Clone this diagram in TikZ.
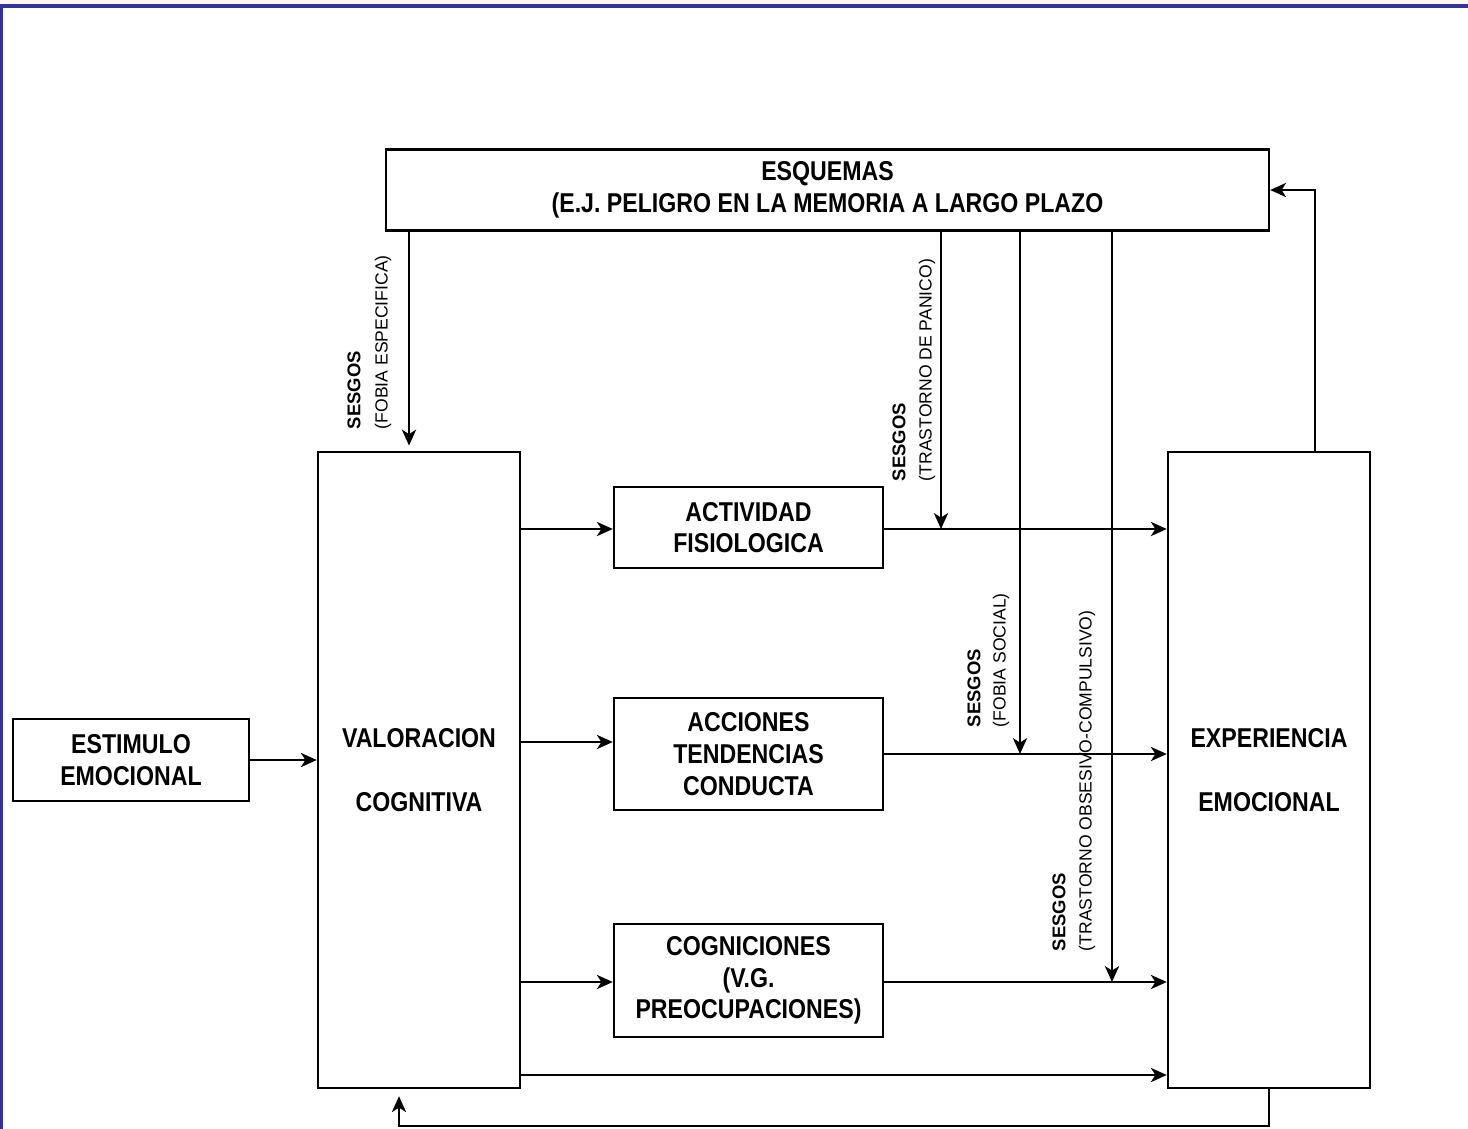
\documentclass[tikz,border=0pt]{standalone}
\usepackage{fontspec}
\setmainfont{Liberation Sans}[FakeStretch=0.85]
\newfontfamily\plainsans{Liberation Sans}
\usetikzlibrary{arrows.meta,positioning,calc}
\definecolor{framebl}{RGB}{51,51,153}
\definecolor{framecream}{RGB}{255,248,238}

\begin{document}
\begin{tikzpicture}[x=0.02cm, y=-0.02cm, line width=1.1pt, >={Stealth[length=9pt,width=8pt,inset=2.5pt]},
main box/.style={draw,line width=1.4pt,inner sep=0pt,align=center,font=\bfseries\fontsize{15.5}{18}\selectfont},
link/.style={->,draw=black,line width=1.5pt},
bias tag/.style={rotate=90,anchor=west,inner sep=0pt,font=\plainsans\bfseries\fontsize{10.5}{12}\selectfont},
bias note/.style={rotate=90,anchor=west,inner sep=0pt,font=\plainsans\fontsize{10}{12}\selectfont}]
\useasboundingbox (0,0) rectangle (1468,1129);
\fill[framecream] (0,0) rectangle (1468,5);
\draw[framebl,line width=1.8pt] (0,6) -- (1468,6) (1,6) -- (1,1129);
\begin{scope}[every node/.style={main box}]
\node[minimum width=17.66cm,minimum height=1.62cm] (esq) at (827.5,190) {ESQUEMAS\\(E.J. PELIGRO EN LA MEMORIA A LARGO PLAZO};
\node[minimum width=4.72cm,minimum height=1.64cm] (est) at (131,760) {ESTIMULO\\EMOCIONAL};
\node[minimum width=4.04cm,minimum height=12.72cm] (val) at (419,770) {VALORACION\\[18pt]COGNITIVA};
\node[minimum width=5.38cm,minimum height=1.62cm] (act) at (748.5,527.5) {ACTIVIDAD\\FISIOLOGICA};
\node[minimum width=5.38cm,minimum height=2.24cm] (acc) at (748.5,754) {ACCIONES\\TENDENCIAS\\CONDUCTA};
\node[minimum width=5.38cm,minimum height=2.26cm] (cog) at (748.5,980.5) {COGNICIONES\\(V.G.\\PREOCUPACIONES)};
\node[minimum width=4.04cm,minimum height=12.72cm] (exp) at (1269,770) {EXPERIENCIA\\[18pt]EMOCIONAL};
\end{scope}
\node[bias tag] (t1) at (354,430) {SESGOS};
\node[bias note] (n1) at (383,430) {(FOBIA ESPECIFICA)};
\node[bias tag] (t2) at (899,482) {SESGOS};
\node[bias note] (n2) at (927,482) {(TRASTORNO DE PANICO)};
\node[bias tag] (t3) at (974,728) {SESGOS};
\node[bias note] (n3) at (1001,728) {(FOBIA SOCIAL)};
\node[bias tag] (t4) at (1059,952) {SESGOS};
\node[bias note] (n4) at (1087,952) {(TRASTORNO OBSESIVO-COMPULSIVO)};
\coordinate (actin) at (0,529);
\coordinate (accin) at (0,742);
\coordinate (accout) at (0,754);
\coordinate (cogin) at (0,982);
\coordinate (valout) at (0,1075);
\coordinate (fb) at (399,1126);
\coordinate (up) at (1315,0);
\coordinate (b1) at (409,0);
\coordinate (b2) at (941,0);
\coordinate (b3) at (1020,0);
\coordinate (b4) at (1112,0);
\draw[link] (est.east) -- (est.east -| val.west);
\draw[link] (actin -| val.east) -- (actin -| act.west);
\draw[link] (accin -| val.east) -- (accin -| acc.west);
\draw[link] (cogin -| val.east) -- (cogin -| cog.west);
\draw[link] (actin -| act.east) -- (actin -| exp.west);
\draw[link] (accout -| acc.east) -- (accout -| exp.west);
\draw[link] (cogin -| cog.east) -- (cogin -| exp.west);
\draw[link] (valout -| val.east) -- (valout -| exp.west);
\draw[link,shorten >=4pt] (exp.south) |- (fb) -- (fb |- val.south);
\draw[link] (up |- exp.north) |- (esq.east);
\draw[link,shorten >=3pt] (b1 |- esq.south) -- (b1 |- val.north);
\draw[link] (b2 |- esq.south) -- (b2 |- actin);
\draw[link] (b3 |- esq.south) -- (b3 |- accout);
\draw[link] (b4 |- esq.south) -- (b4 |- cogin);
\end{tikzpicture}
\end{document}
